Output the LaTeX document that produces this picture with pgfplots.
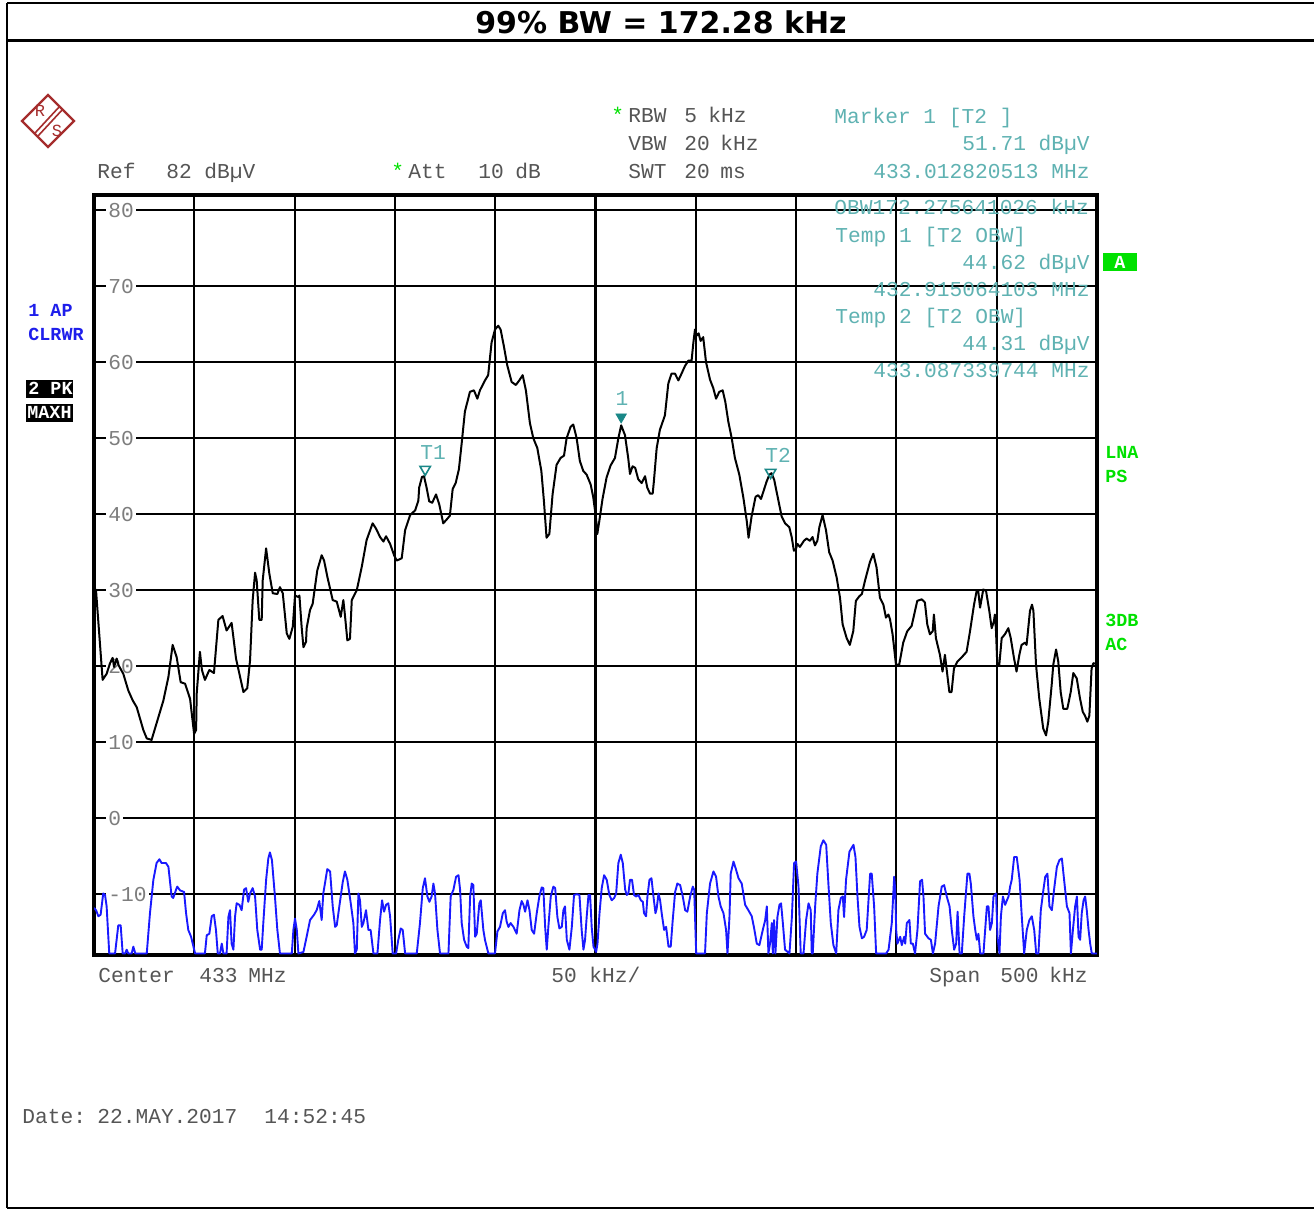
\documentclass[border=0pt]{standalone}
\usepackage{pgfplots}
\usepackage{pgfplotstable}
\pgfplotsset{compat=1.18}
\usepackage{fontspec}
\newfontfamily\monofont{Liberation Mono}
\newfontfamily\titlefont{DejaVu Sans}
\definecolor{hdrgray}{RGB}{85,85,85}
\definecolor{tickgray}{RGB}{125,125,125}
\definecolor{teal1}{RGB}{95,178,178}
\definecolor{tealdark}{RGB}{25,135,135}
\definecolor{rsgreen}{RGB}{0,225,0}
\definecolor{apblue}{RGB}{30,30,235}
\definecolor{traceblue}{RGB}{25,25,255}
\definecolor{rsred}{RGB}{165,45,45}

\pgfplotstableread{
x y
-250.0 30.3
-249.0 30.0
-245.7 18.2
-243.7 19.0
-242.0 20.4
-240.7 21.1
-240.0 19.9
-238.7 21.0
-237.7 20.1
-235.4 19.0
-232.9 16.8
-230.7 15.5
-228.7 14.6
-225.4 11.6
-223.7 10.5
-221.3 10.3
-218.8 12.5
-215.4 15.5
-212.9 18.6
-210.8 22.8
-208.8 21.2
-206.8 17.9
-204.6 17.7
-202.1 15.7
-200.1 11.1
-199.1 11.6
-198.8 16.4
-197.2 21.9
-196.2 19.5
-194.7 18.2
-192.5 19.5
-190.2 19.1
-188.0 26.1
-185.9 26.6
-183.9 24.7
-181.4 25.7
-179.2 21.0
-175.5 16.6
-173.6 17.1
-172.2 20.8
-170.9 28.7
-169.7 32.3
-168.9 31.3
-167.6 26.1
-166.4 26.1
-165.9 31.3
-164.2 35.5
-162.6 32.2
-160.9 29.6
-158.6 29.5
-157.3 30.4
-155.9 29.6
-153.9 24.3
-152.6 23.6
-150.9 25.2
-149.8 29.3
-148.1 29.1
-147.6 29.3
-146.5 25.2
-145.6 22.5
-144.3 23.2
-144.0 25.0
-142.3 27.4
-141.0 28.2
-138.7 32.6
-136.5 34.6
-135.3 33.9
-133.7 31.8
-131.0 28.7
-129.0 28.5
-127.0 26.5
-125.7 28.7
-124.9 26.7
-123.7 23.4
-122.4 23.6
-121.5 28.7
-119.0 30.0
-116.5 33.1
-114.1 36.6
-111.1 38.8
-109.4 38.1
-107.4 37.0
-105.7 36.4
-104.4 37.1
-102.4 36.1
-100.4 34.6
-99.1 33.9
-96.6 34.2
-94.9 37.9
-92.4 39.9
-89.9 40.5
-88.3 41.8
-87.9 43.5
-86.5 44.9
-85.5 45.0
-84.2 43.5
-82.9 41.7
-81.4 41.5
-79.5 42.6
-77.9 41.3
-75.9 38.8
-74.2 39.3
-72.6 39.8
-71.2 43.3
-69.7 44.1
-68.1 45.9
-66.8 49.1
-65.1 53.5
-62.6 56.1
-60.6 56.3
-58.9 55.2
-57.6 56.3
-55.1 57.6
-53.5 58.3
-51.8 62.6
-50.1 64.3
-48.5 64.8
-47.3 64.3
-45.6 62.0
-44.0 59.6
-41.8 57.4
-39.7 57.0
-38.0 57.6
-36.3 58.3
-34.7 56.3
-32.7 52.0
-31.0 50.0
-29.0 48.7
-27.0 45.7
-25.7 41.7
-24.4 36.9
-23.0 37.4
-21.4 42.6
-19.4 46.5
-17.4 47.4
-15.7 47.7
-14.4 50.0
-12.4 51.5
-11.1 51.8
-9.4 50.0
-7.8 47.0
-6.1 45.7
-4.4 45.2
-2.4 43.9
-1.1 42.2
0.2 39.6
0.9 37.4
1.9 39.1
3.5 42.0
5.5 44.8
7.5 46.4
9.7 47.4
11.4 50.0
12.8 51.7
14.7 50.4
16.3 47.4
17.2 45.3
18.5 46.3
19.8 46.1
21.3 44.6
23.0 44.1
24.7 45.0
25.8 43.5
27.2 42.7
28.5 42.7
29.1 44.3
30.5 48.7
32.1 51.1
34.6 53.0
36.3 57.2
37.9 58.5
39.6 58.5
41.3 57.6
42.9 58.5
44.6 59.5
46.3 60.2
47.9 60.2
48.8 62.6
49.6 64.3
50.4 63.5
51.4 63.8
52.4 62.8
53.7 63.3
55.1 60.0
57.1 57.7
58.7 56.6
60.1 55.2
61.7 56.1
63.4 56.3
64.7 54.8
66.2 52.2
67.9 50.0
69.5 47.4
71.7 45.2
73.7 42.2
75.4 39.1
76.3 36.9
77.8 39.7
79.8 42.3
81.1 42.5
82.5 42.0
83.6 42.9
85.3 44.3
86.7 45.2
87.8 45.4
89.1 44.5
91.1 41.9
92.8 39.7
94.5 38.8
96.6 38.3
97.8 37.0
98.9 35.2
99.9 35.4
100.6 36.1
101.9 35.7
103.9 36.5
105.2 36.8
106.9 36.5
108.2 37.0
109.4 35.9
110.6 36.5
111.6 38.3
113.2 39.9
114.9 37.9
116.5 35.0
118.2 33.9
120.2 31.7
121.9 29.0
123.2 25.5
125.2 23.7
126.8 22.8
128.5 24.6
129.8 28.6
131.5 29.2
132.8 29.5
134.3 31.2
136.8 33.7
138.5 34.8
140.1 33.0
141.8 29.0
143.5 28.1
144.8 26.4
146.0 26.8
146.8 26.2
148.1 24.2
149.8 20.2
151.4 20.2
153.4 23.1
155.4 24.6
157.6 25.3
159.3 27.3
160.4 28.6
162.6 28.8
164.2 28.4
165.4 25.5
166.7 24.2
168.1 24.6
168.7 26.8
169.7 23.7
171.7 21.5
173.0 19.3
174.2 21.5
175.0 19.7
176.4 16.6
177.5 16.6
178.7 19.7
180.4 20.6
183.0 21.3
185.0 21.9
186.7 24.6
188.7 28.1
190.0 29.9
190.8 29.9
191.7 27.7
193.3 30.1
194.7 29.9
196.3 27.3
197.5 25.0
198.6 25.9
199.1 26.8
199.6 25.0
200.3 20.2
201.3 20.2
202.5 23.7
204.1 24.2
205.8 25.0
207.0 23.7
208.6 21.1
209.9 19.3
211.3 21.5
212.4 22.8
214.1 23.1
214.9 22.8
216.6 27.3
217.6 28.1
218.3 27.3
219.6 20.2
221.2 15.8
223.2 11.8
224.6 10.9
225.7 12.7
227.4 17.5
228.2 20.2
229.6 22.2
230.7 20.6
231.9 16.6
233.2 14.4
235.2 14.4
236.9 16.6
238.2 19.1
239.9 18.4
241.5 15.8
242.9 14.0
244.0 13.5
245.2 12.7
246.2 13.5
247.3 19.7
248.2 20.4
249.5 20.3
250.0 20.3
}\tracepk

\pgfplotstableread{
x y
-250.0 -11.8
-249.0 -12.1
-247.8 -12.9
-246.7 -12.7
-245.4 -9.9
-244.5 -10.1
-243.7 -11.6
-242.4 -17.8
-239.5 -17.8
-237.9 -14.1
-236.7 -14.1
-235.7 -17.8
-234.5 -17.8
-233.7 -17.3
-232.9 -17.8
-231.2 -17.8
-230.4 -16.9
-229.4 -17.8
-223.7 -17.8
-222.1 -12.5
-220.4 -8.1
-218.8 -5.9
-217.4 -5.4
-216.3 -5.9
-214.1 -5.9
-212.9 -6.4
-211.3 -10.3
-210.5 -10.5
-209.1 -9.4
-208.5 -9.0
-207.1 -9.5
-205.1 -9.7
-204.1 -12.5
-203.0 -14.7
-201.6 -15.6
-199.6 -17.8
-194.7 -17.8
-193.8 -15.4
-192.5 -15.2
-191.3 -12.9
-190.2 -12.7
-189.2 -14.7
-188.3 -17.8
-187.2 -17.8
-186.3 -16.5
-185.5 -17.8
-183.9 -17.8
-183.0 -13.0
-182.2 -12.1
-181.4 -16.5
-180.5 -17.3
-179.7 -13.0
-178.9 -11.2
-177.5 -11.4
-176.4 -12.1
-175.2 -9.4
-174.2 -9.2
-173.1 -11.0
-172.2 -9.9
-170.9 -9.2
-169.7 -10.3
-168.6 -14.7
-167.2 -17.3
-166.4 -17.3
-165.6 -13.8
-164.2 -8.1
-163.1 -5.3
-162.3 -4.5
-161.3 -5.5
-159.8 -10.3
-158.6 -14.7
-157.3 -17.8
-151.4 -17.8
-150.6 -14.7
-149.8 -13.2
-148.9 -14.7
-148.1 -17.8
-145.6 -17.6
-144.0 -15.6
-142.3 -13.4
-140.3 -12.7
-139.0 -12.1
-137.7 -10.9
-136.5 -13.4
-135.7 -9.9
-133.7 -6.7
-132.3 -7.0
-131.0 -11.6
-129.8 -14.3
-129.0 -14.1
-127.7 -11.6
-126.0 -8.4
-124.9 -7.0
-123.7 -8.1
-122.0 -11.2
-120.7 -13.8
-119.9 -17.8
-119.0 -17.3
-118.2 -9.9
-117.4 -10.8
-116.5 -14.3
-115.7 -13.8
-114.4 -12.1
-113.2 -14.7
-112.1 -14.7
-110.7 -17.8
-108.7 -17.8
-107.4 -13.4
-106.4 -10.8
-105.4 -12.3
-104.4 -11.4
-103.3 -11.2
-102.4 -12.9
-101.1 -17.8
-99.4 -17.8
-98.3 -16.0
-97.1 -14.5
-96.1 -14.7
-94.9 -17.8
-89.1 -17.8
-87.5 -13.8
-86.1 -9.2
-85.0 -7.9
-83.8 -10.3
-82.8 -11.0
-81.7 -10.3
-80.8 -8.6
-80.0 -9.9
-78.8 -14.7
-77.5 -17.8
-73.3 -17.8
-72.2 -10.3
-70.8 -9.4
-69.5 -7.7
-68.3 -7.5
-67.5 -9.4
-66.7 -13.8
-65.5 -16.0
-64.2 -16.9
-63.4 -17.1
-62.5 -10.3
-61.7 -8.6
-60.9 -8.8
-60.0 -15.6
-59.2 -15.2
-57.9 -11.2
-57.2 -10.8
-55.9 -14.7
-55.1 -16.0
-53.4 -17.8
-50.1 -17.8
-48.9 -14.9
-47.6 -14.3
-46.2 -12.5
-45.1 -12.1
-44.3 -13.6
-43.4 -14.3
-42.3 -13.8
-40.9 -14.3
-39.3 -15.2
-37.9 -12.1
-36.8 -10.9
-35.9 -11.4
-35.1 -12.3
-33.9 -10.8
-32.9 -12.1
-31.8 -14.7
-30.6 -15.2
-29.3 -12.5
-28.0 -10.3
-26.8 -9.1
-26.0 -9.2
-25.1 -14.3
-24.3 -17.3
-23.5 -14.3
-22.3 -10.3
-21.0 -9.0
-20.1 -9.2
-19.0 -13.0
-18.0 -14.5
-16.8 -14.3
-16.0 -12.1
-15.2 -11.6
-14.3 -16.0
-13.0 -17.3
-11.8 -14.3
-10.7 -10.1
-9.3 -10.0
-8.0 -10.1
-6.9 -14.7
-6.0 -17.3
-5.2 -16.0
-4.4 -13.0
-3.5 -10.1
-2.7 -10.1
-1.9 -14.3
-1.0 -16.9
-0.2 -17.3
0.3 -17.6
1.0 -16.5
2.0 -12.5
3.1 -9.2
4.3 -7.5
5.6 -8.1
6.9 -10.1
8.1 -10.8
9.3 -10.5
10.3 -9.9
11.4 -5.9
12.6 -4.8
13.6 -5.9
14.8 -9.4
15.6 -10.1
16.4 -9.9
17.2 -8.1
18.2 -8.1
19.2 -10.1
20.2 -10.3
21.4 -10.1
22.6 -10.8
23.6 -11.0
24.2 -12.5
25.2 -12.9
25.9 -10.3
26.9 -8.1
27.9 -7.9
28.9 -10.3
29.9 -12.5
30.5 -11.9
31.4 -9.9
32.2 -10.8
33.0 -12.5
34.2 -14.7
35.2 -14.3
36.4 -16.9
37.5 -16.9
38.5 -13.4
39.7 -9.7
40.8 -8.6
42.2 -8.8
43.5 -10.3
44.7 -12.1
45.8 -12.3
47.2 -10.3
48.5 -9.0
49.2 -9.4
50.2 -17.8
54.6 -17.8
55.5 -12.5
57.1 -8.6
58.8 -7.0
60.1 -7.7
61.3 -10.3
62.4 -11.6
63.8 -12.5
65.1 -14.7
65.8 -17.8
66.8 -12.9
67.4 -7.3
68.8 -5.7
70.1 -6.8
71.3 -7.9
72.9 -8.6
74.6 -11.4
76.2 -12.1
77.9 -12.9
79.1 -14.5
80.4 -16.5
81.7 -16.7
83.4 -14.7
84.6 -13.4
85.4 -11.6
86.2 -17.8
87.0 -16.5
87.9 -13.8
88.4 -17.8
89.0 -13.4
89.7 -17.8
90.7 -13.0
91.7 -11.4
92.5 -11.2
93.4 -13.8
94.5 -17.3
96.7 -17.8
97.9 -13.0
99.0 -5.9
100.0 -5.7
101.2 -9.0
102.3 -17.8
103.7 -17.8
105.0 -13.4
106.2 -11.2
107.3 -12.1
107.8 -17.8
108.3 -17.8
109.5 -11.6
110.6 -7.3
112.3 -3.7
113.6 -2.9
115.0 -3.5
116.1 -8.6
117.3 -13.8
118.6 -16.7
120.0 -17.8
121.1 -12.1
122.3 -10.5
123.3 -10.3
123.9 -13.0
124.9 -8.1
126.6 -4.4
128.6 -3.5
129.6 -5.1
130.6 -10.3
131.6 -14.3
132.8 -15.8
133.9 -15.6
135.2 -14.7
136.9 -7.3
137.7 -7.3
138.9 -11.6
139.9 -17.8
144.9 -17.8
146.1 -17.3
147.7 -13.8
148.9 -7.7
149.4 -9.4
149.9 -14.7
150.5 -16.5
151.9 -15.6
152.7 -16.7
153.9 -15.6
154.4 -16.5
155.2 -13.8
156.5 -13.4
157.2 -16.5
158.2 -16.5
159.3 -17.8
160.5 -14.7
161.8 -8.3
162.8 -8.1
163.5 -10.3
164.3 -15.2
166.0 -15.8
167.2 -16.0
168.2 -17.8
169.3 -16.5
171.0 -11.6
172.6 -9.0
173.8 -8.8
175.1 -10.3
176.5 -11.6
177.6 -14.7
178.8 -17.3
179.8 -16.5
180.5 -12.3
181.5 -17.8
182.6 -17.8
183.8 -12.9
185.4 -7.3
186.4 -7.3
187.1 -8.6
188.4 -12.9
189.3 -14.7
190.1 -16.0
190.9 -15.2
191.8 -17.8
193.4 -17.8
195.1 -11.6
195.9 -11.6
196.7 -14.7
197.6 -13.8
198.4 -10.3
199.7 -9.9
200.4 -15.6
201.4 -17.8
202.1 -12.9
203.1 -10.3
204.2 -11.4
205.1 -10.8
205.9 -10.3
206.7 -9.0
207.5 -8.1
208.7 -5.1
210.0 -5.1
211.4 -8.1
212.5 -12.9
213.7 -17.8
215.0 -14.7
216.3 -13.4
217.5 -12.9
218.7 -14.7
219.7 -17.8
220.8 -17.8
222.0 -12.1
223.3 -9.4
224.2 -7.7
225.3 -7.3
226.3 -11.6
227.5 -12.1
228.6 -9.4
230.0 -6.4
231.3 -5.5
232.5 -5.3
233.6 -8.1
235.0 -11.6
236.3 -12.5
237.0 -17.8
238.0 -14.7
239.1 -11.6
240.0 -10.3
240.8 -15.6
241.6 -16.0
242.4 -12.5
243.3 -10.8
244.1 -10.3
244.9 -12.1
245.8 -14.7
246.6 -16.5
247.4 -17.8
250.0 -17.8
}\traceap

\tikzset{
  mono/.style={font=\monofont\fontsize{10.6}{12}\selectfont, inner sep=0pt},
  monob/.style={font=\monofont\bfseries\fontsize{9.2}{11}\selectfont, inner sep=0pt},
}

\begin{document}
\begin{tikzpicture}
\begin{scope}[x=0.5pt,y=-0.5pt]
  \useasboundingbox (0,0) rectangle (1314,1211);
  \fill[white] (0,0) rectangle (1314,1211);
  % frame
  \draw[line width=1.4pt] (7,3) -- (1314,3);
  \draw[line width=1.4pt] (7,3) -- (7,1208);
  \draw[line width=1.4pt] (7,1208) -- (1314,1208);
  \draw[line width=1.4pt] (7,40.5) -- (1314,40.5);
  \node[font=\titlefont\bfseries\fontsize{15}{17}\selectfont, inner sep=0pt] at (661,22) {99\% BW = 172.28 kHz};

  % R&S logo
  \draw[rsred, line width=1.1pt] (22,121) -- (48,95) -- (74,121) -- (48,147) -- cycle;
  \draw[rsred, line width=0.8pt] (35,133) -- (60,106);
  \draw[rsred, line width=0.8pt] (38,136) -- (63,109);
  \node[rsred, font=\monofont\fontsize{8.5}{9}\selectfont, inner sep=0pt] at (40,111) {R};
  \node[rsred, font=\monofont\fontsize{8.5}{9}\selectfont, inner sep=0pt] at (57,131) {S};

  % header
  \node[mono, text=rsgreen, anchor=base west] at (611,122) {*};
  \node[mono, text=hdrgray, anchor=base west] at (628,122) {RBW};
  \node[mono, text=hdrgray, anchor=base west] at (684,122) {5};
  \node[mono, text=hdrgray, anchor=base west] at (708,122) {kHz};
  \node[mono, text=hdrgray, anchor=base west] at (628,150) {VBW};
  \node[mono, text=hdrgray, anchor=base west] at (684,150) {20};
  \node[mono, text=hdrgray, anchor=base west] at (720,150) {kHz};
  \node[mono, text=hdrgray, anchor=base west] at (628,178) {SWT};
  \node[mono, text=hdrgray, anchor=base west] at (684,178) {20};
  \node[mono, text=hdrgray, anchor=base west] at (720,178) {ms};
  \node[mono, text=hdrgray, anchor=base west] at (97,178) {Ref};
  \node[mono, text=hdrgray, anchor=base west] at (166,178) {82};
  \node[mono, text=hdrgray, anchor=base west] at (204,178) {dBµV};
  \node[mono, text=rsgreen, anchor=base west] at (391,178) {*};
  \node[mono, text=hdrgray, anchor=base west] at (408,178) {Att};
  \node[mono, text=hdrgray, anchor=base west] at (478,178) {10};
  \node[mono, text=hdrgray, anchor=base west] at (515,178) {dB};

  % left status
  \node[monob, text=apblue, anchor=base west] at (28,316) {1 AP};
  \node[monob, text=apblue, anchor=base west] at (28,340) {CLRWR};
  \fill[black] (26,380) rectangle (73,398);
  \fill[black] (26,404) rectangle (73,422);
  \node[monob, text=white, anchor=base west] at (28,394) {2 PK};
  \node[monob, text=white, anchor=base west] at (27,418) {MAXH};

  % right status
  \fill[rsgreen] (1103,253) rectangle (1137,271);
  \node[monob, text=white] at (1120,262) {A};
  \node[monob, text=rsgreen, anchor=base west] at (1105,458) {LNA};
  \node[monob, text=rsgreen, anchor=base west] at (1105,482) {PS};
  \node[monob, text=rsgreen, anchor=base west] at (1105,626) {3DB};
  \node[monob, text=rsgreen, anchor=base west] at (1105,650) {AC};

  % bottom
  \node[mono, text=hdrgray, anchor=base west] at (98,982) {Center};
  \node[mono, text=hdrgray, anchor=base west] at (199,982) {433};
  \node[mono, text=hdrgray, anchor=base west] at (248,982) {MHz};
  \node[mono, text=hdrgray, anchor=base west] at (551,982) {50};
  \node[mono, text=hdrgray, anchor=base west] at (589,982) {kHz/};
  \node[mono, text=hdrgray, anchor=base west] at (929,982) {Span};
  \node[mono, text=hdrgray, anchor=base west] at (1000,982) {500};
  \node[mono, text=hdrgray, anchor=base west] at (1049,982) {kHz};
  \node[mono, text=hdrgray, anchor=base west] at (22,1123) {Date:};
  \node[mono, text=hdrgray, anchor=base west] at (97,1123) {22.MAY.2017};
  \node[mono, text=hdrgray, anchor=base west] at (264,1123) {14:52:45};
\end{scope}

\begin{axis}[
  at={(47pt,-477.5pt)}, anchor=south west,
  width=501.5pt, height=380pt, scale only axis,
  xmin=-250, xmax=250, ymin=-18, ymax=82,
  xtick={-200,-150,-100,-50,0,50,100,150,200},
  ytick={-10,0,10,20,30,40,50,60,70,80},
  xticklabels={}, yticklabels={},
  grid=major, major grid style={black, line width=0.95pt},
  major tick length=0pt,
  axis line style={black, line width=1.6pt},
  clip=true,
]
  \draw[black, line width=1.5pt] (axis cs:0,-18) -- (axis cs:0,82);
  \node[mono, text=tickgray, fill=white, inner sep=1pt, anchor=west, xshift=6pt] at (axis cs:-250,80) {80};
  \node[mono, text=tickgray, fill=white, inner sep=1pt, anchor=west, xshift=6pt] at (axis cs:-250,70) {70};
  \node[mono, text=tickgray, fill=white, inner sep=1pt, anchor=west, xshift=6pt] at (axis cs:-250,60) {60};
  \node[mono, text=tickgray, fill=white, inner sep=1pt, anchor=west, xshift=6pt] at (axis cs:-250,50) {50};
  \node[mono, text=tickgray, fill=white, inner sep=1pt, anchor=west, xshift=6pt] at (axis cs:-250,40) {40};
  \node[mono, text=tickgray, fill=white, inner sep=1pt, anchor=west, xshift=6pt] at (axis cs:-250,30) {30};
  \node[mono, text=tickgray, fill=white, inner sep=1pt, anchor=west, xshift=6pt] at (axis cs:-250,20) {20};
  \node[mono, text=tickgray, fill=white, inner sep=1pt, anchor=west, xshift=6pt] at (axis cs:-250,10) {10};
  \node[mono, text=tickgray, fill=white, inner sep=1pt, anchor=west, xshift=6pt] at (axis cs:-250,0) {0};
  \node[mono, text=tickgray, fill=white, inner sep=1pt, anchor=west, xshift=6pt] at (axis cs:-250,-10) {-10};

  \addplot[black, line width=1.0pt, line join=round] table[x=x,y=y] {\tracepk};
  \addplot[traceblue, line width=0.95pt, line join=round] table[x=x,y=y] {\traceap};

  % markers
  \addplot[only marks, mark=triangle, mark size=3pt, mark options={rotate=180, draw=tealdark, fill=white, line width=0.8pt}] coordinates {(-84.9,45.9) (87.3,45.5)};
  \addplot[only marks, mark=triangle*, mark size=3pt, mark options={rotate=180, draw=tealdark, fill=tealdark}] coordinates {(12.8,52.8)};
  \node[mono, text=teal1] at (axis cs:-81.0,48.1) {T1};
  \node[mono, text=teal1] at (axis cs:13.2,55.2) {1};
  \node[mono, text=teal1] at (axis cs:91.0,47.8) {T2};
\end{axis}

\begin{scope}[x=0.5pt,y=-0.5pt]
  \node[mono, text=teal1, anchor=base west] at (834,123) {Marker 1 [T2 ]};
  \node[mono, text=teal1, anchor=base east] at (1090,150) {51.71 dBµV};
  \node[mono, text=teal1, anchor=base east] at (1090,178) {433.012820513 MHz};
  \node[mono, text=teal1, anchor=base west] at (834,214) {OBW172.275641026 kHz};
  \node[mono, text=teal1, anchor=base west] at (835,242) {Temp 1 [T2 OBW]};
  \node[mono, text=teal1, anchor=base east] at (1090,269) {44.62 dBµV};
  \node[mono, text=teal1, anchor=base east] at (1090,296) {432.915064103 MHz};
  \node[mono, text=teal1, anchor=base west] at (835,323) {Temp 2 [T2 OBW]};
  \node[mono, text=teal1, anchor=base east] at (1090,350) {44.31 dBµV};
  \node[mono, text=teal1, anchor=base east] at (1090,377) {433.087339744 MHz};
\end{scope}
\end{tikzpicture}
\end{document}
